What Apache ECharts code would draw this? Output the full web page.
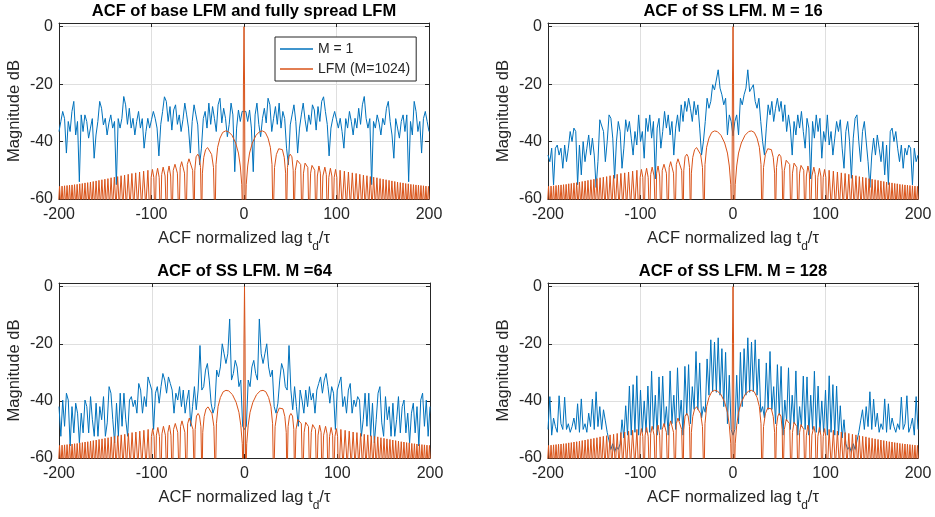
<!DOCTYPE html>
<html>
<head>
<meta charset="utf-8">
<title>ACF of SS LFM</title>
<script src="https://cdn.jsdelivr.net/npm/echarts@6/dist/echarts.min.js"></script>
<style>
  html, body { margin: 0; padding: 0; background: #fff; }
  #chart { width: 935px; height: 517px; }
</style>
</head>
<body>
<div id="chart"></div>
<script>
// lag grid t_d/tau, right half only (the ACF magnitude is symmetric in lag)
const lagHalf = [
  0, 2, 4, 6, 8, 10, 12, 14, 16, 18,
  20, 22, 24, 26, 28, 30, 32, 34, 36, 38,
  40, 42, 44, 46, 48, 50, 52, 54, 56, 58,
  60, 62, 64, 66, 68, 70, 72, 74, 76, 78,
  80, 82, 84, 86, 88, 90, 92, 94, 96, 98,
  100, 102, 104, 106, 108, 110, 112, 114, 116, 118,
  120, 122, 124, 126, 128, 130, 132, 134, 136, 138,
  140, 142, 144, 146, 148, 150, 152, 154, 156, 158,
  160, 162, 164, 166, 168, 170, 172, 174, 176, 178,
  180, 182, 184, 186, 188, 190, 192, 194, 196, 198,
  200
];

// blue curves (dB)
const m1Half = [
  -30, -29.5, -33, -29, -35.3, -50.5, -30.7, -26.6, -34, -38.3,
  -31.9, -28.4, -33.5, -24.9, -27.2, -36.5, -31.9, -27.8, -34, -26.6,
  -35.3, -29.5, -32, -42.3, -48.1, -34.2, -30.7, -27.2, -33, -44,
  -35.3, -30.7, -26.6, -32.4, -36.5, -30.7, -34, -27.2, -29, -36,
  -27.8, -33, -26, -24.4, -29.5, -34, -45, -35.3, -31.9, -29.5,
  -32.4, -35.3, -31.9, -36.5, -42.3, -32, -35.3, -29.5, -33, -37.7,
  -31.9, -35.3, -28.4, -34, -27.2, -24.3, -31.9, -35.3, -32, -55,
  -33, -35.3, -30.7, -33.5, -37.7, -31.9, -34.2, -28.4, -26, -33,
  -37.7, -45.8, -32, -35.3, -38.8, -33, -30.7, -36.5, -30.7, -54,
  -33, -37.7, -26, -29.5, -36.5, -33, -44, -32, -29.5, -33,
  -36.5
];
const m16Half = [
  -38, -33, -30.7, -37.7, -24.9, -27.2, -23.7, -21.4, -15, -22.6,
  -22, -20.2, -26, -28.4, -24.9, -33, -40, -44.7, -35.3, -27.2,
  -30.7, -26, -33, -28.4, -24.9, -29.5, -26, -33, -27.2, -36.5,
  -30.7, -35.3, -44.7, -33, -37.7, -30.7, -35.3, -29.5, -36.5, -42.3,
  -31.9, -35.3, -53, -33, -38.8, -30.7, -36.5, -31.9, -45.8, -36.5,
  -40, -30.7, -41.2, -36.5, -44.7, -38.8, -33, -36.5, -32.4, -42.3,
  -49.3, -36.5, -33, -40, -52.8, -38.8, -31.9, -30.7, -40, -47,
  -36.5, -33, -32.4, -47, -56, -44.7, -38.8, -44.7, -37.7, -42.3,
  -47, -40, -51.6, -41.2, -55, -36.5, -35.3, -40, -36.5, -42.3,
  -47, -41.2, -49.3, -42.3, -44.7, -41.2, -42.3, -55.1, -42.3, -47,
  -44.7
];
const m64Half = [
  -50, -48.9, -32.7, -35, -28.1, -25.8, -30.4, -32.7, -11.3, -23.5,
  -26.9, -23.5, -20, -28.1, -31.6, -29.2, -42, -44.3, -40.8, -32.7,
  -26.9, -29.2, -35, -36.2, -20.6, -36.2, -43.1, -35, -42, -48.9,
  -36.2, -39.7, -44.3, -36.2, -42, -35, -39.7, -37.3, -44.3, -36.2,
  -33.9, -31.6, -37.3, -32.7, -30.4, -35, -40.8, -35, -37.3, -50,
  -36.2, -33.9, -31.6, -42, -38.5, -44.3, -36.2, -33.9, -44.3, -39.7,
  -42, -38.5, -39.7, -52.4, -46.6, -37.3, -48.9, -37.3, -52.4, -40.8,
  -54.7, -46.6, -37.3, -35, -47.7, -52.4, -38.5, -46.6, -42, -52.4,
  -40.8, -52.4, -46.6, -38.5, -51.2, -42, -39.7, -51.2, -44.3, -54.7,
  -44.3, -40.8, -51.2, -42, -55.8, -39.7, -37.3, -48.9, -39.7, -52.4,
  -42
];
const m128Half = [
  -52, -50, -31, -48, -23, -42, -21.7, -38, -17.9, -37,
  -19.4, -36.8, -18.6, -38, -25.3, -44, -42, -46, -26.7, -43,
  -22.7, -43, -35, -48, -27.3, -45, -27.9, -52, -39.7, -47,
  -28.4, -50, -38, -48, -29.5, -52, -42, -49, -31.3, -50,
  -31.6, -52, -38, -50, -29.6, -51, -34.8, -51, -40, -51,
  -36.2, -52, -31.2, -51, -34.3, -52, -34.8, -52, -41.7, -53,
  -46.6, -55, -57, -56, -58, -55, -57, -54, -51, -47,
  -43.1, -50, -42, -49, -36.8, -50, -39.4, -49, -44.3, -51,
  -48, -50, -39.3, -51, -41, -50, -46, -49, -51, -48,
  -50, -38.7, -50, -48, -38.2, -51, -49, -46, -52, -38.5,
  -50
];

// LFM (M=1024) reference, right half: lobe shoulders, peaks and nulls
const lfmLagHalf = [
  0, 0.6, 1.2, 2.4, 4, 6, 9, 13, 17, 20, 23, 26, 28.5, 30.3, 31.4,
  33, 35, 37.5, 39.3, 41.5, 43.5, 45, 45.8,
  47, 48.5, 50, 51.8, 53.2, 54,
  55.5, 57.5, 59.5, 61.3, 62.7,
  64.3, 66, 67.4, 69, 70.3,
  72, 73.5, 74.6, 76.5, 77.8,
  79.3, 81, 82.6, 83.6,
  85.3, 87.4, 89, 90.2,
  91.7, 93.4, 95, 96.1,
  97.5, 99, 100.4, 101.4,
  103.9, 106.2, 108.5, 110.7, 112.9, 115, 117.1, 119.2, 121.2, 123.2,
  125.2, 127.2, 129.1, 131, 132.9, 134.8, 136.6, 138.4, 140.2, 142,
  143.7, 145.4, 147.1, 148.8, 150.4, 152, 153.6, 155.2, 156.8, 158.3,
  159.9, 161.5, 163, 164.5, 166, 167.5, 169, 170.5, 171.9, 173.4,
  174.8, 176.2, 177.6, 179, 180.4, 181.8, 183.2, 184.6, 185.9, 187.3,
  188.6, 190, 191.3, 192.7, 194, 195.4, 196.7, 198, 199.4, 200.8
];
const lfmDbHalf = [
  0, -20, -70, -55, -48.5, -44, -40.5, -37.8, -36.5, -36.3, -36.8, -38.8, -42, -48, -70,
  -49, -44.5, -42.5, -42.1, -42.8, -45.5, -51, -70,
  -49, -45.3, -44.4, -45.3, -50, -70,
  -50, -46.5, -46, -48, -70,
  -51, -47.5, -47, -49, -70,
  -51, -48.3, -47.9, -50, -70,
  -52, -48.5, -51, -70,
  -52, -48.9, -51.5, -70,
  -52.5, -49.3, -52, -70,
  -52.5, -49.7, -52.5, -70,
  -50, -63, -50.3, -63, -50.6, -63, -50.9, -63, -51.1, -63,
  -51.4, -63, -51.7, -63, -51.9, -63, -52.2, -63, -52.4, -63,
  -52.6, -63, -52.9, -63, -53.1, -63, -53.3, -63, -53.5, -63,
  -53.7, -63, -53.9, -63, -54.1, -63, -54.3, -63, -54.4, -63,
  -54.6, -63, -54.7, -63, -54.9, -63, -55, -63, -55.1, -63,
  -55.2, -63, -55.3, -63, -55.4, -63, -55.5, -63, -55.6, -63
];

const panelTitles = [
  'ACF of base LFM and fully spread LFM',
  'ACF of SS LFM. M = 16',
  'ACF of SS LFM. M =64',
  'ACF of SS LFM. M = 128'
];
const blueNames = ['M = 1', 'M = 16', 'M = 64', 'M = 128'];
const blueHalves = [m1Half, m16Half, m64Half, m128Half];

const font = "'Liberation Sans', Arial, Helvetica, sans-serif";
const ink = '#262626';
const blue = '#0072BD';
const orange = '#D95319';

const grids = [
  { left: 59, top: 23, width: 370, height: 176 },
  { left: 548, top: 23, width: 370, height: 176 },
  { left: 59, top: 283, width: 371, height: 175 },
  { left: 548, top: 283, width: 370, height: 175 }
];

// mirror a right-half curve onto negative lags
function mirror(lags, vals) {
  const pts = [];
  for (let i = lags.length - 1; i > 0; i--) pts.push([-lags[i], vals[i]]);
  for (let i = 0; i < lags.length; i++) pts.push([lags[i], vals[i]]);
  return pts;
}

const lfmData = mirror(lfmLagHalf, lfmDbHalf);

const xAxes = [];
const yAxes = [];
const series = [];
const titles = [];

grids.forEach((g, i) => {
  const boxLine = { show: true, onZero: false, lineStyle: { color: ink, width: 1 } };
  const tick = { show: true, inside: true, length: 4, lineStyle: { color: ink } };

  xAxes.push({
    gridIndex: i, type: 'value', position: 'bottom',
    min: -200, max: 200, interval: 100,
    name: '{a|ACF normalized lag t}{s|d}{a|/τ}',
    nameLocation: 'middle', nameGap: 24,
    nameTextStyle: {
      color: ink, fontFamily: font, fontSize: 16.5,
      rich: {
        a: { color: ink, fontFamily: font, fontSize: 16.5 },
        s: { color: ink, fontFamily: font, fontSize: 12, padding: [18, 0, 0, 0] }
      }
    },
    axisLine: boxLine, axisTick: tick,
    axisLabel: { color: ink, fontFamily: font, fontSize: 16, margin: 8 },
    splitLine: { show: true, lineStyle: { color: '#dfdfdf', width: 1 } }
  });
  xAxes.push({
    gridIndex: i, type: 'value', position: 'top',
    min: -200, max: 200, interval: 100,
    axisLine: boxLine, axisTick: tick,
    axisLabel: { show: false }, splitLine: { show: false }
  });

  yAxes.push({
    gridIndex: i, type: 'value', position: 'left',
    min: -60, max: 1.3, interval: 20,
    name: 'Magnitude dB', nameLocation: 'middle', nameGap: 36,
    nameTextStyle: { color: ink, fontFamily: font, fontSize: 16.5 },
    axisLine: boxLine, axisTick: tick,
    axisLabel: { color: ink, fontFamily: font, fontSize: 16, margin: 6, showMaxLabel: false },
    splitLine: { show: true, lineStyle: { color: '#dfdfdf', width: 1 } }
  });
  yAxes.push({
    gridIndex: i, type: 'value', position: 'right',
    min: -60, max: 1.3, interval: 20,
    axisLine: boxLine, axisTick: tick,
    axisLabel: { show: false }, splitLine: { show: false }
  });

  titles.push({
    text: panelTitles[i],
    left: g.left + g.width / 2,
    top: g.top - 20,
    textAlign: 'center',
    padding: 0,
    textStyle: { fontFamily: font, fontSize: 16.5, fontWeight: 'bold', color: '#000' }
  });

  series.push({
    name: blueNames[i], type: 'line',
    xAxisIndex: i * 2, yAxisIndex: i * 2,
    data: mirror(lagHalf, blueHalves[i]),
    symbol: 'none', clip: true,
    lineStyle: { color: blue, width: 1 }, itemStyle: { color: blue }
  });
  series.push({
    name: 'LFM (M=1024)', type: 'line',
    xAxisIndex: i * 2, yAxisIndex: i * 2,
    data: lfmData,
    symbol: 'none', clip: true,
    lineStyle: { color: orange, width: 1 }, itemStyle: { color: orange }
  });
});

const chart = echarts.init(document.getElementById('chart'));
chart.setOption({
  animation: false,
  backgroundColor: '#fff',
  title: titles,
  legend: {
    data: ['M = 1', 'LFM (M=1024)'],
    orient: 'vertical',
    left: 275, top: 37,
    padding: [5, 6, 5, 5],
    icon: 'rect',
    itemGap: 6, itemWidth: 33, itemHeight: 1.5,
    backgroundColor: '#fff',
    borderColor: ink, borderWidth: 1, borderRadius: 0,
    textStyle: { color: ink, fontFamily: font, fontSize: 14, lineHeight: 14 }
  },
  grid: grids.map(g => Object.assign({ show: false, containLabel: false }, g)),
  xAxis: xAxes,
  yAxis: yAxes,
  series: series
});
</script>
</body>
</html>
